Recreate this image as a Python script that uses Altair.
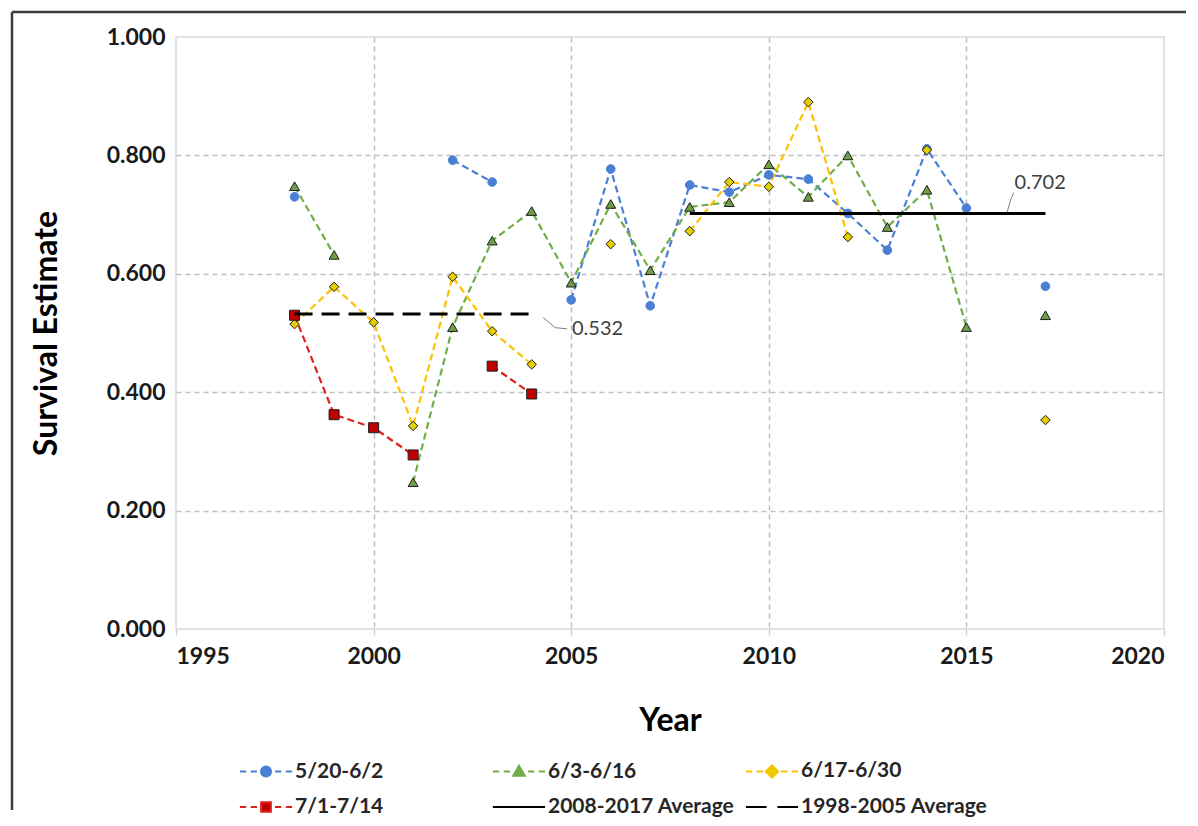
import altair as alt
import pandas as pd

# ---------------- data ----------------
years = list(range(1998, 2018))
series_names = ["5/20-6/2", "6/3-6/16", "6/17-6/30", "7/1-7/14"]
s_520_602 = [0.730, None, None, None, 0.792, 0.755, None, 0.556, 0.777, 0.546,
             0.750, 0.738, 0.767, 0.760, 0.702, 0.640, 0.811, 0.711, None, 0.579]
s_603_616 = [0.748, 0.632, None, 0.248, 0.510, 0.656, 0.706, 0.585, 0.718, 0.606,
             0.713, 0.721, 0.785, 0.730, 0.800, 0.679, 0.742, 0.510, None, 0.530]
s_617_630 = [0.515, 0.578, 0.518, 0.343, 0.595, 0.503, 0.447, None, 0.650, None,
             0.672, 0.755, 0.747, 0.890, 0.662, None, 0.809, None, None, 0.353]
s_701_714 = [0.530, 0.362, 0.340, 0.294, None, 0.444, 0.397, None, None, None,
             None, None, None, None, None, None, None, None, None, None]

avg_names = ["2008-2017 Average", "1998-2005 Average"]
avg_values = [0.702, 0.532]
avg_starts = [2008, 1998]
avg_ends = [2017, 2004]

ann_labels = ["0.532", "0.702"]
ann_years = [2005.02, 2016.22]
ann_values = [0.507, 0.753]
leader_years = [[2004.29, 2004.60, 2004.90], [2016.03, 2016.13, 2016.20]]
leader_values = [[0.526, 0.509, 0.507], [0.704, 0.727, 0.737]]

x_ticks = [1995, 2000, 2005, 2010, 2015, 2020]
y_ticks = [0.0, 0.2, 0.4, 0.6, 0.8, 1.0]

# ---------------- styling ----------------
line_colors = ["#4a7fd6", "#70ad47", "#ffc000", "#e0201c"]
marker_shapes = ["circle", "triangle-up", "diamond", "square"]
marker_fills = ["#4a7fd6", "#6e9e45", "#e6cf00", "#c00000"]
marker_strokes = ["#4a7fd6", "#1e1e1e", "#1e1e1e", "#1e1e1e"]
marker_sizes = [75, 100, 90, 100]

all_names = series_names + avg_names
legend_paths = [
    "M-1.45,0H-1.1M-0.85,0H-0.5M0.5,0H0.85M1.1,0H1.45M-0.28,0A0.28,0.28,0,1,0,0.28,0A0.28,0.28,0,1,0,-0.28,0Z",
    "M-1.45,0H-1.1M-0.85,0H-0.5M0.5,0H0.85M1.1,0H1.45M0,-0.32L0.32,0.24L-0.32,0.24Z",
    "M-1.45,0H-1.1M-0.85,0H-0.5M0.5,0H0.85M1.1,0H1.45M0,-0.34L0.34,0L0,0.34L-0.34,0Z",
    "M-1.45,0H-1.1M-0.85,0H-0.5M0.5,0H0.85M1.1,0H1.45M-0.27,-0.27H0.27V0.27H-0.27Z",
    "M-1.45,0H1.45",
    "M-1.45,0H-0.3M0.3,0H1.45",
]
legend_fills = ["#4a7fd6", "#70ad47", "#e6cf00", "#c00000", "#000000", "#000000"]
legend_strokes = ["#4a7fd6", "#70ad47", "#ffc000", "#e0201c", "#000000", "#000000"]

# ---------------- tables ----------------
rows = []
for name, vals in zip(series_names, [s_520_602, s_603_616, s_617_630, s_701_714]):
    seg = 0
    for yr, v in zip(years, vals):
        if v is None:
            seg += 1
            continue
        rows.append({"series": name, "year": yr, "value": v, "seg": f"{name}#{seg}"})
df = pd.DataFrame(rows)

avg_rows = []
for n, v, a, b in zip(avg_names, avg_values, avg_starts, avg_ends):
    avg_rows.append({"series": n, "year": a, "value": v})
    avg_rows.append({"series": n, "year": b, "value": v})
avg_df = pd.DataFrame(avg_rows)

ann_df = pd.DataFrame({"label": ann_labels, "year": ann_years, "value": ann_values})
lead_rows = []
for lab, ys, vs in zip(ann_labels, leader_years, leader_values):
    for i, (yy, vv) in enumerate(zip(ys, vs)):
        lead_rows.append({"label": lab, "year": yy, "value": vv, "order": i})
lead_df = pd.DataFrame(lead_rows)

legend_df = pd.DataFrame({"series": all_names, "year": [-1] * len(all_names)})

# ---------------- encodings ----------------
xscale = alt.Scale(domain=[1995, 2020], nice=False, zero=False)
yscale = alt.Scale(domain=[0, 1], nice=False, zero=True)
X = alt.X("year:Q", scale=xscale, axis=alt.Axis(
    values=x_ticks, format="d", title="Year", grid=True,
    gridOpacity={"condition": {"test": "datum.value == 1995 || datum.value == 2020", "value": 0}, "value": 1},
    ticks=True, tickSize=6, tickColor="#d0d0d0", tickWidth=1.5,
    labelPadding=10, titlePadding=37))
Y = alt.Y("value:Q", scale=yscale, axis=alt.Axis(
    values=y_ticks, format=".3f", title="Survival Estimate", grid=True,
    gridOpacity={"condition": {"test": "datum.value == 0 || datum.value == 1", "value": 0}, "value": 1},
    ticks=False, labelPadding=11, titlePadding=43))

lines = alt.Chart(df).mark_line(strokeWidth=2.2, strokeDash=[7, 4]).encode(
    x=X, y=Y,
    color=alt.Color("series:N", scale=alt.Scale(domain=series_names, range=line_colors), legend=None),
    detail="seg:N",
)

point_layers = []
for name, shp, fc, sc, sz in zip(series_names, marker_shapes, marker_fills, marker_strokes, marker_sizes):
    point_layers.append(
        alt.Chart(df).transform_filter(alt.datum.series == name).mark_point(
            shape=shp, filled=True, fill=fc, stroke=sc, strokeWidth=1, size=sz, opacity=1
        ).encode(x=X, y=Y)
    )

avg_solid = alt.Chart(avg_df).transform_filter(alt.datum.series == avg_names[0]).mark_line(
    color="#000000", strokeWidth=3).encode(x=X, y=Y)
avg_dashed = alt.Chart(avg_df).transform_filter(alt.datum.series == avg_names[1]).mark_line(
    color="#000000", strokeWidth=3, strokeDash=[18, 9]).encode(x=X, y=Y)

leaders = alt.Chart(lead_df).mark_line(color="#808080", strokeWidth=1).encode(
    x=X, y=Y, detail="label:N", order="order:Q")
ann_text = alt.Chart(ann_df).mark_text(
    align="left", baseline="middle", font="Lato", fontSize=20, color="#404040"
).encode(x=X, y=Y, text="label:N")

leg_kwargs = dict(
    title=None, orient="none", legendX=71, legendY=715, direction="horizontal",
    columns=3, gridAlign="all", columnPadding=6, rowPadding=6,
    symbolSize=1296, symbolStrokeWidth=2, labelOffset=10, labelLimit=400,
    labelFont="Lato", labelFontSize=21, labelFontWeight="bold", labelColor="#262626",
)
legend_layer = alt.Chart(legend_df).transform_filter("datum.year > 0").mark_point(
    filled=True, strokeWidth=2, opacity=1
).encode(
    shape=alt.Shape("series:N", scale=alt.Scale(domain=all_names, range=legend_paths), legend=alt.Legend(**leg_kwargs)),
    fill=alt.Fill("series:N", scale=alt.Scale(domain=all_names, range=legend_fills), legend=alt.Legend(**leg_kwargs)),
    stroke=alt.Stroke("series:N", scale=alt.Scale(domain=all_names, range=legend_strokes), legend=alt.Legend(**leg_kwargs)),
)

one = pd.DataFrame({"k": [0]})
border_top = alt.Chart(one).mark_rule(color="#3c3c3c", strokeWidth=2.5).encode(
    x=alt.value(-164), x2=alt.value(1010), y=alt.value(-25), y2=alt.value(-25))
border_left = alt.Chart(one).mark_rule(color="#3c3c3c", strokeWidth=2.5).encode(
    x=alt.value(-164), x2=alt.value(-164), y=alt.value(-25), y2=alt.value(773))

chart = alt.layer(
    lines, *point_layers, avg_solid, avg_dashed, leaders, ann_text, legend_layer, border_top, border_left
).properties(
    width=988, height=592, padding={"left": 2, "top": 2, "right": 0, "bottom": 0}, background="#ffffff"
).configure_view(
    stroke="#d9d9d9", strokeWidth=1.5
).configure_axis(
    domain=False, gridColor="#bfbfbf", gridDash=[5, 4], gridWidth=1.5,
    labelFont="Lato", labelFontWeight="bold", labelFontSize=23, labelColor="#1a1a1a",
    titleFont="Lato", titleFontWeight="bold", titleFontSize=32, titleColor="#000000",
)

chart.save("out.html", embed_options={"renderer": "svg", "actions": False})
